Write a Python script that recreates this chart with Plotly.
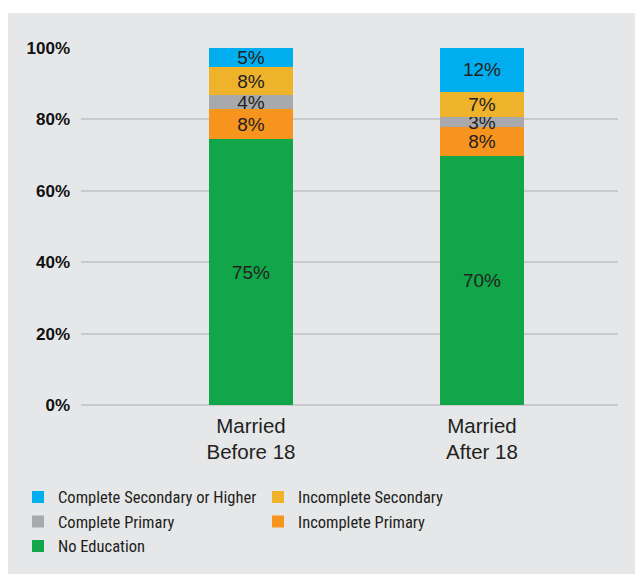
import plotly.graph_objects as go

categories = ["Married<br>Before 18", "Married<br>After 18"]
x_pos = [0, 1]

series_names = ["No Education", "Incomplete Primary", "Complete Primary",
                "Incomplete Secondary", "Complete Secondary or Higher"]
no_education = [74.5, 69.8]
incomplete_primary = [8.4, 8.1]
complete_primary = [3.9, 2.7]
incomplete_secondary = [7.8, 7.2]
complete_secondary = [5.4, 12.2]

labels_no_education = ["75%", "70%"]
labels_incomplete_primary = ["8%", "8%"]
labels_complete_primary = ["4%", "3%"]
labels_incomplete_secondary = ["8%", "7%"]
labels_complete_secondary = ["5%", "12%"]

y_ticks = [0, 20, 40, 60, 80, 100]
y_tick_labels = ["0%", "20%", "40%", "60%", "80%", "100%"]

colors = ["#12a64b", "#f7941d", "#a7a9ac", "#efb32b", "#00aeef"]
values = [no_education, incomplete_primary, complete_primary,
          incomplete_secondary, complete_secondary]
labels = [labels_no_education, labels_incomplete_primary, labels_complete_primary,
          labels_incomplete_secondary, labels_complete_secondary]

BG = "#e6e7e9"
FONT = "Liberation Sans, Arial, sans-serif"
NARROW = "Liberation Sans Narrow, Roboto Condensed, Roboto, sans-serif"

fig = go.Figure()
for name, vals, txt, col in zip(series_names, values, labels, colors):
    fig.add_trace(go.Bar(
        x=x_pos, y=vals, name=name, marker=dict(color=col, line=dict(width=0)),
        width=0.36, text=txt, textposition="inside", insidetextanchor="middle",
        textfont=dict(family=FONT, size=19, color="#231f20"),
        hoverinfo="skip",
    ))

fig.update_layout(
    barmode="stack",
    width=635, height=566,
    margin=dict(l=73, r=25, t=40, b=169, autoexpand=False),
    paper_bgcolor=BG, plot_bgcolor=BG,
    uniformtext=dict(mode="show", minsize=19),
    font=dict(family=FONT, color="#231f20"),
    xaxis=dict(
        tickmode="array", tickvals=x_pos, ticktext=categories,
        range=[-0.736, 1.589], showgrid=False, zeroline=False,
        tickfont=dict(size=20.5, color="#231f20"), ticks="", ticklabelstandoff=6,
    ),
    yaxis=dict(
        range=[0, 100], tickmode="array", tickvals=y_ticks, ticktext=y_tick_labels,
        showgrid=True, gridcolor="#c9cacc", gridwidth=2,
        zeroline=True, zerolinecolor="#c9cacc", zerolinewidth=2,
        tickfont=dict(size=17, color="#111111", family=FONT, weight="bold"),
        ticklabelstandoff=10,
    ),
    legend=dict(
        orientation="h", traceorder="reversed",
        x=-0.1173, xanchor="left", y=-0.2096, yanchor="top",
        entrywidth=195, itemwidth=30, bgcolor="rgba(0,0,0,0)",
        font=dict(size=16.5, color="#231f20", family=NARROW), tracegroupgap=0,
    ),
    showlegend=True,
    shapes=[
        dict(type="rect", xref="paper", yref="paper", x0=-0.3, x1=1.1,
             y0=1 + 35 / 357, y1=1.2, fillcolor="white", line=dict(width=0), layer="above"),
    ],
)

fig.write_html("out.html")
